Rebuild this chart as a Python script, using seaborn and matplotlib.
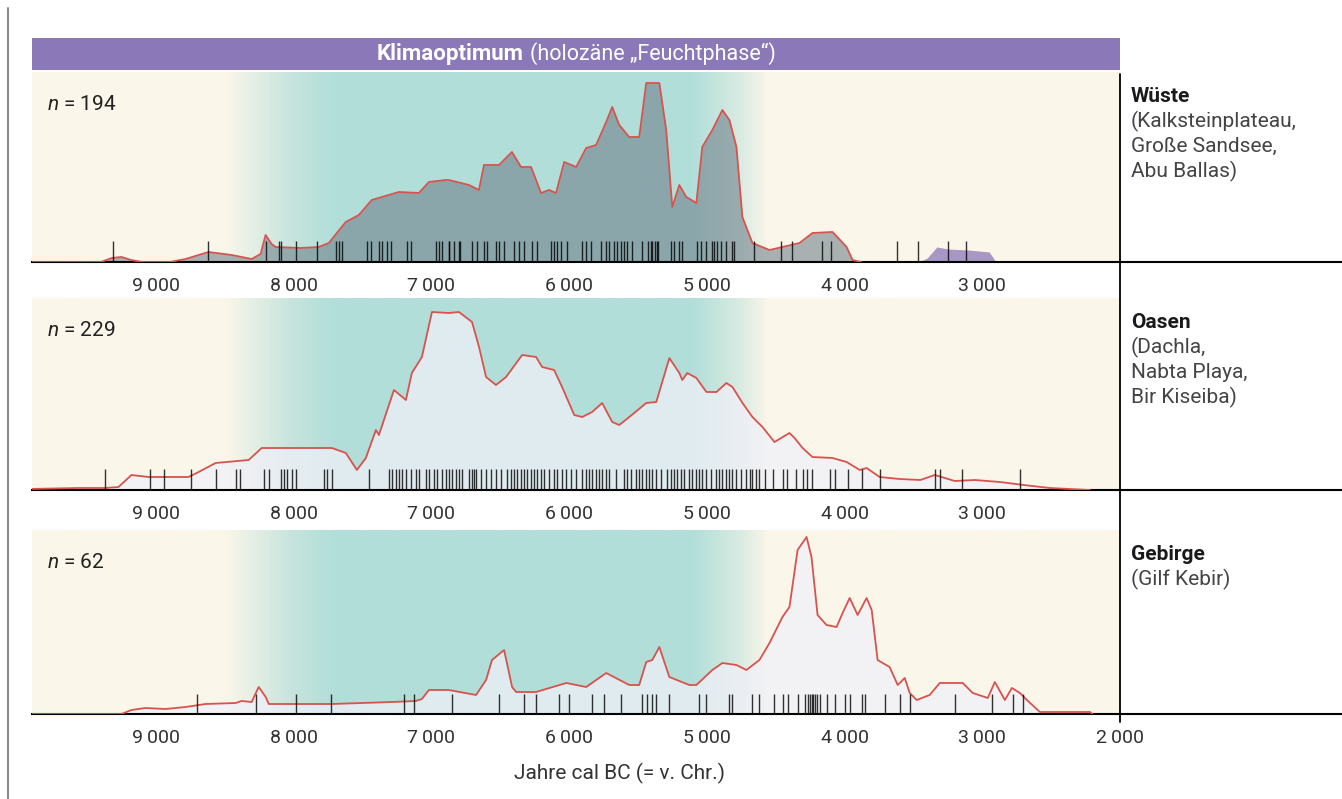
import numpy as np
import matplotlib.pyplot as plt
import seaborn as sns
from matplotlib.lines import Line2D
from matplotlib.patches import Rectangle
from matplotlib.colors import LinearSegmentedColormap
from matplotlib.ticker import FixedLocator, FuncFormatter

sns.set_style("white")
plt.rcParams['font.family'] = ['Roboto', 'DejaVu Sans']
plt.rcParams['mathtext.fontset'] = 'custom'
plt.rcParams['mathtext.it'] = 'Roboto:italic'
plt.rcParams['mathtext.rm'] = 'Roboto'

# --- Wüste: summed probability curve (years cal BC, relative density)
wueste_years = [9913, 9400, 9380, 9320, 9250, 9180, 9100, 8900, 8785, 8618, 8450, 8305,
                8240, 8204, 8160, 8131, 7950, 7818, 7745, 7622, 7527, 7433, 7360, 7236,
                7091, 7018, 6895, 6873, 6727, 6655, 6618, 6509, 6415, 6349, 6276, 6204,
                6145, 6095, 6036, 5949, 5876, 5804, 5731, 5687, 5636, 5564, 5491, 5440,
                5345, 5295, 5251, 5200, 5149, 5076, 5033, 4960, 4887, 4836, 4785, 4742,
                4669, 4545, 4451, 4327, 4233, 4087, 3985, 3942, 3880]
wueste_dens = [0, 0, 1, 4, 5, 2, 0, 0, 3, 10, 7, 3,
               8, 27, 18, 15, 14, 15, 19, 40, 47, 62, 65, 70,
               69, 80, 82, 82, 77, 72, 97, 97, 110, 95, 95, 69,
               72, 69, 100, 95, 114, 117, 140, 155, 137, 125, 125, 179,
               179, 132, 55, 77, 65, 59, 115, 132, 152, 142, 115, 45,
               19, 12, 15, 19, 29, 30, 15, 2, 0]
# late (purple) component
wueste_late_years = [3460, 3400, 3330, 3250, 3100, 2950, 2900]
wueste_late_dens = [0, 4, 15, 13, 12, 10, 0]
wueste_dates = [9310, 8620, 8200, 8110, 8090, 7980, 7830, 7690, 7670, 7650, 7470, 7440,
                7380, 7360, 7320, 7290, 7180, 7150, 6970, 6945, 6925, 6875, 6870, 6835,
                6800, 6790, 6705, 6670, 6620, 6595, 6530, 6510, 6475, 6400, 6365, 6330,
                6270, 6235, 6130, 6110, 6085, 6060, 6015, 5905, 5875, 5840, 5770, 5730,
                5710, 5675, 5650, 5620, 5600, 5580, 5540, 5470, 5430, 5405, 5400, 5380,
                5360, 5355, 5260, 5235, 5200, 5180, 5075, 5040, 5005, 4965, 4945, 4925,
                4895, 4860, 4820, 4800, 4655, 4460, 4385, 4165, 4095, 3620, 3470, 3250,
                3115]

# --- Oasen
oasen_years = [9927, 9563, 9418, 9367, 9272, 9178, 9054, 8763, 8690, 8567, 8327, 8232,
               7723, 7621, 7541, 7476, 7403, 7381, 7272, 7185, 7142, 7069, 6996, 6873,
               6800, 6705, 6654, 6603, 6531, 6458, 6341, 6240, 6196, 6109, 6051, 5963,
               5905, 5833, 5760, 5687, 5636, 5563, 5440, 5367, 5272, 5200, 5178, 5142,
               5076, 5003, 4930, 4858, 4814, 4741, 4669, 4596, 4509, 4400, 4363, 4305,
               4233, 4087, 3985, 3890, 3840, 3745, 3600, 3450, 3345, 3200, 3054, 2872,
               2700, 2509, 2218]
oasen_dens = [1, 2, 2, 2, 3, 15, 13, 13, 18, 27, 30, 42,
              42, 37, 20, 32, 60, 55, 100, 90, 117, 133, 178, 177,
              178, 168, 143, 113, 105, 113, 135, 133, 123, 120, 103, 75,
              73, 78, 87, 68, 65, 73, 87, 88, 132, 117, 110, 117,
              112, 98, 98, 107, 103, 87, 73, 63, 48, 57, 52, 42,
              33, 32, 28, 20, 22, 13, 11, 10, 15, 9, 10, 8,
              5, 2, 0]
oasen_dates = [9367, 9040, 8938, 8749, 8567, 8422, 8393, 8218, 8181, 8094, 8073, 8051,
               8014, 7985, 7782, 7760, 7723, 7454, 7309, 7287, 7258, 7236, 7214, 7185,
               7149, 7113, 7091, 7040, 7018, 6981, 6960, 6923, 6894, 6873, 6851, 6821,
               6800, 6778, 6727, 6705, 6690, 6676, 6640, 6603, 6567, 6531, 6494, 6451,
               6421, 6400, 6378, 6349, 6327, 6305, 6276, 6254, 6232, 6203, 6181, 6145,
               6109, 6087, 6051, 6021, 5985, 5949, 5905, 5876, 5855, 5833, 5803, 5781,
               5760, 5731, 5709, 5658, 5600, 5578, 5549, 5512, 5490, 5469, 5440, 5418,
               5396, 5367, 5331, 5287, 5258, 5236, 5214, 5185, 5163, 5127, 5105, 5076,
               5054, 5032, 5003, 4967, 4930, 4909, 4887, 4858, 4836, 4814, 4785, 4749,
               4712, 4690, 4669, 4640, 4618, 4581, 4523, 4450, 4421, 4349, 4305, 4276,
               4233, 4109, 4072, 3978, 3876, 3745, 3345, 3309, 3149, 2727]

# --- Gebirge
gebirge_years = [9927, 9251, 9178, 9076, 8931, 8785, 8640, 8421, 8378, 8305, 8254, 8203,
                 8181, 7723, 7287, 7113, 7069, 7018, 6873, 6676, 6603, 6560, 6472, 6414,
                 6385, 6240, 6021, 5876, 5731, 5563, 5491, 5440, 5396, 5345, 5272, 5127,
                 5076, 4960, 4887, 4785, 4713, 4618, 4545, 4451, 4400, 4341, 4276, 4240,
                 4196, 4131, 4058, 4014, 3963, 3905, 3840, 3803, 3760, 3673, 3614, 3563,
                 3527, 3476, 3382, 3309, 3142, 3069, 2960, 2909, 2836, 2785, 2727, 2676,
                 2582, 2218, 2200]
gebirge_dens = [0, 0, 4, 6, 5, 7, 10, 11, 13, 12, 27, 17,
                10, 10, 12, 13, 15, 24, 24, 19, 34, 54, 64, 27,
                22, 22, 31, 27, 41, 29, 29, 52, 54, 67, 37, 29,
                29, 44, 51, 49, 44, 54, 71, 97, 107, 164, 177, 157,
                99, 89, 87, 101, 116, 99, 116, 104, 54, 47, 29, 36,
                21, 14, 19, 31, 31, 21, 16, 32, 14, 26, 21, 14,
                2, 2, 0]
gebirge_dates = [8705, 8276, 7985, 7731, 7200, 7127, 6851, 6509, 6327, 6240, 6073, 6000,
                 5833, 5745, 5621, 5469, 5432, 5396, 5367, 5272, 5054, 5003, 4836, 4814,
                 4669, 4618, 4509, 4450, 4414, 4341, 4290, 4269, 4254, 4240, 4232, 4218,
                 4203, 4181, 4131, 4072, 4000, 3963, 3876, 3854, 3709, 3600, 3527, 3200,
                 2931, 2778, 2705]

panel_names = ["Wüste", "Oasen", "Gebirge"]
panel_sub = [["(Kalksteinplateau,", "Große Sandsee,", "Abu Ballas)"],
             ["(Dachla,", "Nabta Playa,", "Bir Kiseiba)"],
             ["(Gilf Kebir)"]]
panel_n = [194, 229, 62]
axis_end = [2100, 2100, 2000]   # last tick of each time axis

# --- layout (pixels of a 1342x799 canvas)
W, H = 1342, 799
x_left, x_right = 32, 1120
panel_px = [(72, 262), (298, 490), (530, 714)]

RED = '#d8534d'
PURPLE = '#8a78b8'
bg_cmap = LinearSegmentedColormap.from_list('bg', ['#fbf6ea', '#b2ded9'])

fig = plt.figure(figsize=(W / 100, H / 100), dpi=100)


def box(x0, y0, x1, y1):
    return [x0 / W, 1 - y1 / H, (x1 - x0) / W, (y1 - y0) / H]


def tick_fmt(v, pos):
    v = int(round(v))
    if v % 1000:
        return ''
    return f"{v:,}".replace(',', '\u2009')


curves = [(wueste_years, wueste_dens, wueste_dates),
          (oasen_years, oasen_dens, oasen_dates),
          (gebirge_years, gebirge_dens, gebirge_dates)]

grid = np.linspace(9900, 2000, 600)
grad = np.interp(grid, [2000, 4550, 4750, 5100, 7700, 8000, 8500, 9900],
                 [0, 0, 0.45, 1, 1, 0.75, 0, 0])

for i, ((yrs, dens, dates), (top, bot)) in enumerate(zip(curves, panel_px)):
    ax = fig.add_axes(box(x_left, top, x_right, bot))
    ytop = bot - top
    ax.imshow(grad[np.newaxis, :], extent=(9900, 2000, 0, ytop), aspect='auto',
              cmap=bg_cmap, vmin=0, vmax=1, zorder=0, interpolation='bilinear')
    if i == 0:
        ax.fill_between(yrs, dens, color='#6e7e88', alpha=0.58, lw=0, zorder=1)
        ax.fill_between(wueste_late_years, wueste_late_dens, color=PURPLE,
                        alpha=0.75, lw=0, zorder=1)
    else:
        ax.fill_between(yrs, dens, color='#f0f0f8', alpha=0.75, lw=0, zorder=1)
    sns.lineplot(x=yrs, y=dens, ax=ax, color=RED, lw=1.3, estimator=None,
                 sort=False, zorder=3)
    sns.rugplot(x=dates, ax=ax, height=0.11, color='black', lw=1.0, alpha=0.8,
                expand_margins=False, zorder=4)
    ax.set_xlim(9900, 2000)
    ax.set_ylim(0, ytop)
    ax.set_xlabel('')
    ax.set_ylabel('')
    ax.set_yticks([])
    ax.xaxis.set_major_locator(FixedLocator(np.arange(9500, axis_end[i] - 1, -500)))
    ax.xaxis.set_minor_locator(FixedLocator(np.arange(9900, axis_end[i] - 1, -100)))
    ax.xaxis.set_major_formatter(FuncFormatter(tick_fmt))
    ax.tick_params(axis='x', which='major', direction='out', length=7, width=1,
                   pad=4, labelsize=14, labelcolor='#333333', color='black')
    ax.tick_params(axis='x', which='minor', direction='out', length=4, width=1,
                   color='black')
    for s in ['left', 'top', 'right']:
        ax.spines[s].set_visible(False)
    ax.spines['bottom'].set_linewidth(1.5)
    ax.spines['bottom'].set_color('black')

    # axis line continues to the right edge
    fig.add_artist(Line2D([x_right / W, 1], [1 - bot / H] * 2, color='black', lw=1.5))

    # n label
    fig.text(47 / W, 1 - (top + 33) / H, rf"$n$ = {panel_n[i]}", size=15,
             color='#222222', va='center', ha='left')

    # right-hand labels
    fig.text(1131 / W, 1 - (top + 24) / H, panel_names[i], size=15,
             fontweight='bold', color='#1a1a1a', va='center', ha='left')
    for j, line in enumerate(panel_sub[i]):
        fig.text(1131 / W, 1 - (top + 49 + 25 * j) / H, line, size=15,
                 color='#444444', va='center', ha='left')

# divider between chart and labels
fig.add_artist(Line2D([x_right / W] * 2, [1 - 74 / H, 1 - 722 / H], color='black', lw=1.3))
# left frame line
fig.add_artist(Line2D([8 / W] * 2, [0, 1 - 8 / H], color='#8a8a8a', lw=1.5))

# climate optimum banner
fig.add_artist(Rectangle((x_left / W, 1 - 70 / H), (x_right - x_left) / W, 32 / H,
                         facecolor=PURPLE, edgecolor='none'))
fig.text(524 / W, 1 - 54 / H, "Klimaoptimum", size=16, fontweight='bold',
         color='white', ha='right', va='center')
fig.text(530 / W, 1 - 54 / H, "(holozäne \u201eFeuchtphase\u201c)", size=15.5,
         color='white', ha='left', va='center')

fig.text(620 / W, 1 - 773 / H, "Jahre cal BC (= v. Chr.)", size=15,
         color='#333333', ha='center', va='center')

fig.savefig('out.png', dpi=100)
